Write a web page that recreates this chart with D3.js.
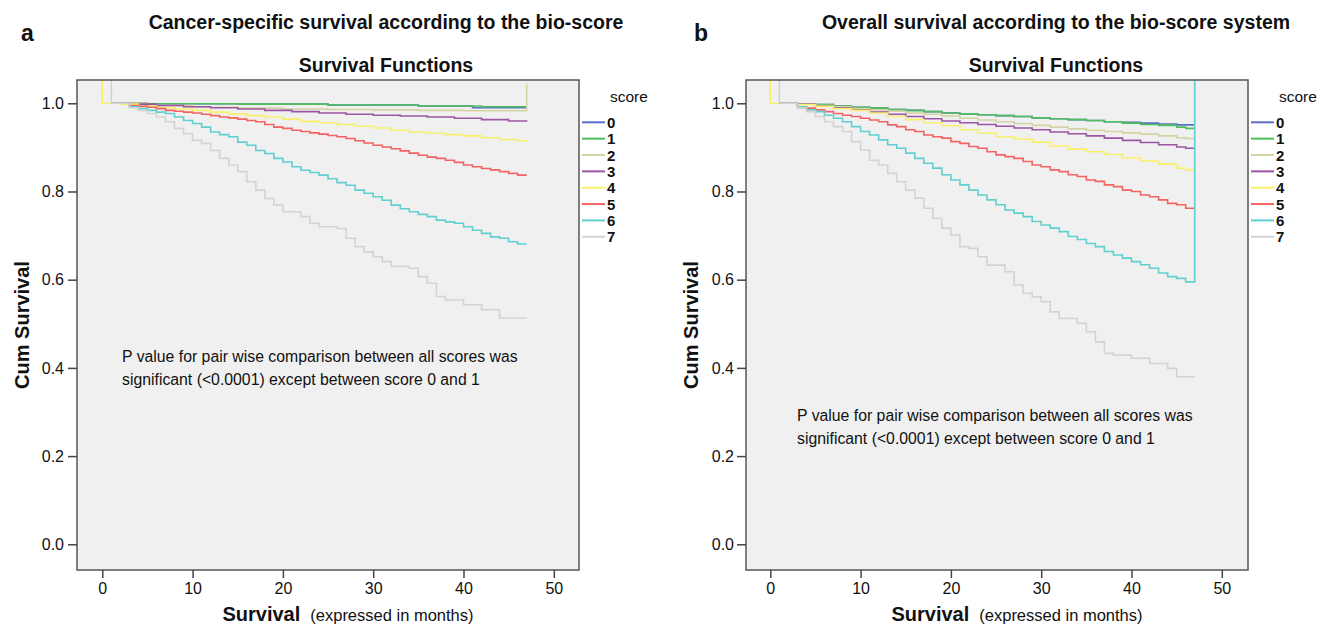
<!DOCTYPE html>
<html>
<head>
<meta charset="utf-8">
<script src="https://cdn.jsdelivr.net/npm/d3@7/dist/d3.min.js"></script>
<style>
  body { margin: 0; background: #fff; }
  text { font-family: "Liberation Sans", Arial, sans-serif; fill: #111; }
</style>
</head>
<body>
<svg id="chart" width="1326" height="627"></svg>
<script>
// score groups + SPSS default colours
var scores = ["0", "1", "2", "3", "4", "5", "6", "7"];
var scoreColors = ["#5b6fc6", "#4fbe5c", "#d5d2a3", "#9a55a3", "#f7f06c", "#f26363", "#5fcfcf", "#d3d3d3"];

var xTicks = [0, 10, 20, 30, 40, 50];
var yTicks = [0.0, 0.2, 0.4, 0.6, 0.8, 1.0];

// panel a : cancer-specific survival, [month, cum survival]
var cs0 = [[1, 1], [5, 0.999], [15, 0.998], [25, 0.996], [35, 0.994], [41, 0.99], [47, 0.99]];
var cs1 = [[1, 1], [5, 0.999], [15, 0.998], [25, 0.996], [35, 0.994], [42, 0.992], [47, 0.992]];
var cs2 = [[1, 1], [5, 0.995], [10, 0.991], [15, 0.989], [20, 0.987], [25, 0.986], [30, 0.985], [35, 0.984],
           [40, 0.983], [47, 0.983], [47, 1.045]];
var cs3 = [[1, 1], [3, 0.998], [6, 0.995], [9, 0.992], [12, 0.99], [15, 0.987], [18, 0.984], [21, 0.981], [24, 0.978],
           [27, 0.975], [30, 0.973], [33, 0.971], [36, 0.969], [39, 0.966], [42, 0.963], [45, 0.96], [47, 0.959]];
var cs4 = [[0, 1.06], [0, 1], [2, 0.998], [4, 0.994], [6, 0.99], [8, 0.987], [10, 0.984], [12, 0.98], [14, 0.976],
           [16, 0.972], [18, 0.969], [20, 0.964], [22, 0.959], [24, 0.956], [26, 0.952], [28, 0.948], [30, 0.944],
           [32, 0.939], [34, 0.935], [36, 0.932], [38, 0.929], [40, 0.926], [42, 0.922], [44, 0.918], [46, 0.915],
           [47, 0.915]];
var cs5 = [[1, 1], [3, 0.995], [4, 0.993], [5, 0.991], [6, 0.988], [7, 0.984], [8, 0.982], [9, 0.98], [10, 0.978],
           [11, 0.975], [12, 0.972], [13, 0.969], [14, 0.967], [15, 0.964], [16, 0.961], [17, 0.958], [18, 0.952],
           [19, 0.946], [20, 0.943], [21, 0.939], [22, 0.936], [23, 0.933], [24, 0.93], [25, 0.927], [26, 0.924],
           [27, 0.92], [28, 0.915], [29, 0.91], [30, 0.905], [31, 0.901], [32, 0.897], [33, 0.892], [34, 0.887],
           [35, 0.882], [36, 0.878], [37, 0.875], [38, 0.871], [39, 0.866], [40, 0.86], [41, 0.856], [42, 0.852],
           [43, 0.849], [44, 0.845], [45, 0.841], [46, 0.837], [47, 0.837]];
var cs6 = [[1, 1], [3, 0.992], [4, 0.988], [5, 0.984], [6, 0.98], [7, 0.977], [8, 0.969], [9, 0.961], [10, 0.954],
           [11, 0.946], [12, 0.935], [13, 0.929], [14, 0.924], [15, 0.912], [16, 0.905], [17, 0.893], [18, 0.886],
           [19, 0.875], [20, 0.867], [21, 0.856], [22, 0.848], [23, 0.843], [24, 0.837], [25, 0.829], [26, 0.82],
           [27, 0.814], [28, 0.803], [29, 0.796], [30, 0.788], [31, 0.78], [32, 0.769], [33, 0.761], [34, 0.754],
           [35, 0.748], [36, 0.743], [37, 0.735], [38, 0.731], [39, 0.728], [40, 0.72], [41, 0.712], [42, 0.705],
           [43, 0.697], [44, 0.694], [45, 0.686], [46, 0.681], [47, 0.681]];
var cs7 = [[1, 1.06], [1, 1], [3, 0.99], [4, 0.984], [5, 0.977], [6, 0.969], [7, 0.958], [8, 0.943], [9, 0.931],
           [10, 0.916], [11, 0.909], [12, 0.893], [13, 0.875], [14, 0.86], [15, 0.845], [16, 0.822], [17, 0.803],
           [18, 0.784], [19, 0.769], [20, 0.754], [22, 0.743], [23, 0.728], [24, 0.72], [26, 0.716], [27, 0.694],
           [28, 0.675], [29, 0.663], [30, 0.652], [31, 0.641], [32, 0.63], [34, 0.626], [35, 0.607], [36, 0.592],
           [37, 0.562], [38, 0.554], [40, 0.543], [42, 0.532], [44, 0.513], [47, 0.513]];

// panel b : overall survival
var os0 = [[1, 1], [3, 0.999], [5, 0.997], [7, 0.994], [9, 0.991], [11, 0.989], [13, 0.986], [15, 0.984], [17, 0.981],
           [19, 0.978], [21, 0.976], [23, 0.974], [25, 0.972], [27, 0.97], [29, 0.967], [31, 0.965], [33, 0.963],
           [35, 0.961], [37, 0.958], [39, 0.957], [41, 0.955], [43, 0.953], [45, 0.951], [47, 0.951]];
var os1 = [[1, 1], [3, 0.999], [5, 0.997], [7, 0.994], [9, 0.991], [11, 0.989], [13, 0.986], [15, 0.984], [17, 0.981],
           [19, 0.978], [21, 0.976], [23, 0.974], [25, 0.972], [27, 0.97], [29, 0.967], [31, 0.965], [33, 0.963],
           [35, 0.961], [37, 0.958], [39, 0.955], [41, 0.952], [43, 0.95], [45, 0.946], [46, 0.943], [47, 0.943]];
var os2 = [[1, 1], [3, 0.998], [5, 0.995], [7, 0.992], [9, 0.988], [11, 0.985], [13, 0.982], [15, 0.978], [17, 0.975],
           [19, 0.971], [21, 0.966], [23, 0.962], [25, 0.958], [27, 0.954], [29, 0.95], [31, 0.946], [33, 0.942],
           [35, 0.939], [37, 0.936], [39, 0.933], [41, 0.93], [43, 0.926], [45, 0.922], [46, 0.92], [47, 0.92]];
var os3 = [[1, 1], [3, 0.998], [5, 0.994], [7, 0.99], [9, 0.985], [11, 0.98], [13, 0.975], [15, 0.97], [17, 0.965],
           [19, 0.96], [21, 0.956], [23, 0.952], [25, 0.948], [27, 0.944], [29, 0.94], [31, 0.935], [33, 0.931],
           [35, 0.926], [37, 0.921], [39, 0.916], [41, 0.911], [43, 0.906], [45, 0.901], [46, 0.898], [47, 0.898]];
var os4 = [[0, 1.06], [0, 1], [3, 0.997], [5, 0.993], [7, 0.988], [9, 0.984], [11, 0.978], [13, 0.97], [15, 0.963],
           [17, 0.956], [19, 0.949], [21, 0.94], [23, 0.932], [25, 0.924], [27, 0.919], [29, 0.912], [31, 0.903],
           [33, 0.896], [35, 0.89], [37, 0.884], [39, 0.876], [41, 0.869], [43, 0.862], [45, 0.853], [46, 0.849],
           [47, 0.849]];
var os5 = [[1, 1], [3, 0.992], [4, 0.989], [5, 0.985], [6, 0.981], [7, 0.977], [8, 0.973], [9, 0.97], [10, 0.966],
           [11, 0.962], [12, 0.958], [13, 0.951], [14, 0.947], [15, 0.94], [16, 0.936], [17, 0.928], [18, 0.924],
           [19, 0.921], [20, 0.913], [21, 0.909], [22, 0.902], [23, 0.898], [24, 0.89], [25, 0.883], [26, 0.879],
           [27, 0.875], [28, 0.868], [29, 0.86], [30, 0.856], [31, 0.849], [32, 0.845], [33, 0.838], [34, 0.834],
           [35, 0.826], [36, 0.823], [37, 0.815], [38, 0.811], [39, 0.803], [40, 0.8], [41, 0.792], [42, 0.788],
           [43, 0.781], [44, 0.773], [45, 0.77], [46, 0.762], [47, 0.762]];
var os6 = [[1, 1], [3, 0.992], [4, 0.985], [5, 0.981], [6, 0.973], [7, 0.966], [8, 0.958], [9, 0.947], [10, 0.936],
           [11, 0.928], [12, 0.917], [13, 0.906], [14, 0.898], [15, 0.887], [16, 0.875], [17, 0.864], [18, 0.853],
           [19, 0.838], [20, 0.826], [21, 0.815], [22, 0.803], [23, 0.792], [24, 0.781], [25, 0.77], [26, 0.758],
           [27, 0.751], [28, 0.743], [29, 0.732], [30, 0.724], [31, 0.717], [32, 0.709], [33, 0.698], [34, 0.691],
           [35, 0.682], [36, 0.675], [37, 0.664], [38, 0.656], [39, 0.649], [40, 0.641], [41, 0.634], [42, 0.626],
           [43, 0.615], [44, 0.607], [45, 0.603], [46, 0.595], [47, 0.595], [47, 1.06]];
var os7 = [[1, 1.06], [1, 1], [3, 0.989], [4, 0.981], [5, 0.97], [6, 0.958], [7, 0.947], [8, 0.936], [9, 0.913],
           [10, 0.894], [11, 0.871], [12, 0.86], [13, 0.841], [14, 0.822], [15, 0.803], [16, 0.785], [17, 0.762],
           [18, 0.739], [19, 0.717], [20, 0.701], [21, 0.675], [22, 0.671], [23, 0.652], [24, 0.633], [26, 0.618],
           [27, 0.588], [28, 0.569], [29, 0.561], [30, 0.55], [31, 0.527], [32, 0.512], [34, 0.501], [35, 0.482],
           [36, 0.459], [37, 0.433], [38, 0.429], [40, 0.422], [42, 0.41], [44, 0.399], [45, 0.38], [47, 0.38]];

var noteLines = ["P value for pair wise comparison between all scores was",
                 "significant (<0.0001) except between score 0 and 1"];

var svg = d3.select("#chart");

function drawPanel(p) {
    var g = svg.append("g");
    var x = d3.scaleLinear().domain(p.xDomain).range([p.left, p.left + 502]);
    var y = d3.scaleLinear().domain([-0.0583, 1.0528]).range([570, 80]);

    // panel letter + titles
    g.append("text").attr("x", p.letterX).attr("y", 41)
        .style("font-size", "23px").style("font-weight", "bold").text(p.letter);
    g.append("text").attr("x", p.titleX).attr("y", 29).attr("text-anchor", "middle")
        .style("font-size", "19.5px").style("font-weight", "bold").text(p.title);
    g.append("text").attr("x", p.titleX).attr("y", 72).attr("text-anchor", "middle")
        .style("font-size", "19.5px").style("font-weight", "bold").text("Survival Functions");

    g.append("rect").attr("x", p.left).attr("y", 80).attr("width", 502).attr("height", 490)
        .attr("fill", "#f0f0f0");

    var clipId = "clip" + p.letter;
    g.append("clipPath").attr("id", clipId).append("rect")
        .attr("x", p.left).attr("y", 80).attr("width", 502).attr("height", 490);

    var line = d3.line()
        .x(function (d) { return x(d[0]); })
        .y(function (d) { return y(d[1]); })
        .curve(d3.curveStepAfter);

    g.append("g").attr("clip-path", "url(#" + clipId + ")")
        .selectAll("path").data(p.series).enter()
        .append("path")
        .attr("d", line)
        .attr("fill", "none")
        .attr("stroke", function (d, i) { return scoreColors[i]; })
        .attr("stroke-width", 1.6);

    g.append("rect").attr("x", p.left).attr("y", 80).attr("width", 502).attr("height", 490)
        .attr("fill", "none").attr("stroke", "#555").attr("stroke-width", 1.5);

    var xAxis = g.append("g").attr("transform", "translate(0,570)")
        .call(d3.axisBottom(x).tickValues(xTicks).tickSize(8).tickPadding(5).tickFormat(d3.format("d")));
    var yAxis = g.append("g").attr("transform", "translate(" + p.left + ",0)")
        .call(d3.axisLeft(y).tickValues(yTicks).tickSize(9).tickPadding(p.yPad).tickFormat(d3.format(".1f")));
    [xAxis, yAxis].forEach(function (a) {
        a.select(".domain").remove();
        a.selectAll("line").attr("stroke", "#444").attr("stroke-width", 1.5);
        a.selectAll("text").style("font-size", "16px").style("font-family", "'Liberation Sans', Arial, sans-serif")
            .attr("fill", "#111");
    });

    // axis titles
    g.append("text").attr("transform", "translate(" + (p.left - 48) + ",325) rotate(-90)")
        .attr("text-anchor", "middle").style("font-size", "20px").style("font-weight", "bold")
        .text("Cum Survival");
    var xl = g.append("text").attr("x", p.left + 271).attr("y", 621).attr("text-anchor", "middle");
    xl.append("tspan").style("font-size", "20px").style("font-weight", "bold").text("Survival");
    xl.append("tspan").attr("dx", 10).style("font-size", "16.5px").text("(expressed in months)");

    // legend
    var lg = g.append("g").attr("transform", "translate(" + p.legendX + ",0)");
    lg.append("text").attr("x", 28).attr("y", 102).style("font-size", "15.5px").text("score");
    var items = lg.selectAll("g.item").data(scores).enter().append("g")
        .attr("transform", function (d, i) { return "translate(0," + (122.3 + i * 16.35) + ")"; });
    items.append("line").attr("x1", 0).attr("x2", 23)
        .attr("stroke", function (d, i) { return scoreColors[i]; }).attr("stroke-width", 2);
    items.append("text").attr("x", 25).attr("y", 5.5).style("font-size", "15px").style("font-weight", "bold")
        .attr("fill", "#222").text(function (d) { return d; });

    // note
    g.selectAll("text.note").data(noteLines).enter().append("text")
        .attr("class", "note")
        .attr("x", p.noteX)
        .attr("y", function (d, i) { return p.noteY + i * 22.5; })
        .style("font-size", "15.8px").attr("fill", "#333")
        .text(function (d) { return d; });
}

drawPanel({
    letter: "a", letterX: 21, title: "Cancer-specific survival according to the bio-score", titleX: 386,
    left: 77, xDomain: [-2.8, 52.79], yPad: 4, legendX: 582,
    series: [cs0, cs1, cs2, cs3, cs4, cs5, cs6, cs7], noteX: 122, noteY: 362
});
drawPanel({
    letter: "b", letterX: 694, title: "Overall survival according to the bio-score system", titleX: 1056,
    left: 746, xDomain: [-2.69, 52.9], yPad: 3, legendX: 1251,
    series: [os0, os1, os2, os3, os4, os5, os6, os7], noteX: 797, noteY: 421
});
</script>
</body>
</html>
